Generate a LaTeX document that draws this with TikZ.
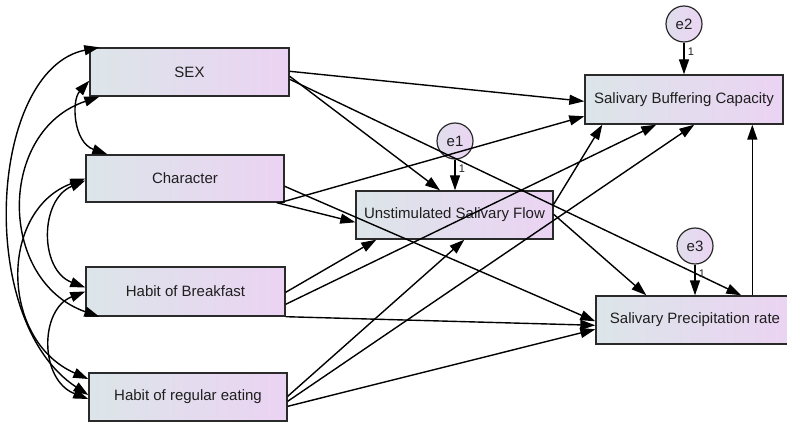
\documentclass[tikz,border=0pt]{standalone}
\usepackage{fontspec}
\setmainfont{Liberation Sans}
\usetikzlibrary{arrows.meta,calc}
\definecolor{boxL}{HTML}{DCE5E9}
\definecolor{boxR}{HTML}{EBD3F3}
\definecolor{errL}{HTML}{E0DEEC}
\definecolor{errR}{HTML}{EBD5F3}
\definecolor{edge}{HTML}{2A2A2A}
\tikzset{
  var/.style={draw=edge, line width=1.4pt, minimum width=198pt, minimum height=48pt,
    inner sep=0pt, left color=boxL, right color=boxR,
    font=\fontsize{15}{18}\selectfont, text=black!88},
  err/.style={circle, draw=edge, line width=1.2pt, minimum size=36pt, inner sep=0pt,
    left color=errL, right color=errR, font=\fontsize{15}{18}\selectfont, text=black!88},
  lab/.style={font=\fontsize{11}{12}\selectfont, inner sep=0pt, text=black!88},
  reg/.style={line width=1.4pt, -{Triangle[length=15pt,width=10pt]}},
  cov/.style={line width=1.4pt, {Triangle[length=15pt,width=10pt]}-{Triangle[length=15pt,width=10pt]}},
}
\begin{document}
\begin{tikzpicture}[x=1pt,y=-1pt]
\useasboundingbox (0,0) rectangle (787,422);
\clip (0,0) rectangle (787,422);
% observed variables
\node[var, minimum width=199pt] (sex) at (189.5,72) {SEX};
\node[var, minimum height=47pt] (char) at (185,178.5) {Character};
\node[var, minimum width=199pt, minimum height=49pt] (hb) at (185.5,291.5) {Habit of Breakfast};
\node[var] (hre) at (188,397) {Habit of regular eating};
\node[var, minimum width=197pt] (usf) at (454.5,215) {Unstimulated Salivary Flow};
\node[var, minimum height=49pt] (sbc) at (684,99.5) {Salivary Buffering Capacity};
\node[var] (spr) at (695,320) {Salivary Precipitation rate};
% error terms
\node[err] (e1) at (455,141) {e1};
\node[err] (e2) at (684,24) {e2};
\node[err] (e3) at (695,246) {e3};
% regression paths
\draw[reg] ($(sex.north east)+(0,24)$) -- ($(sbc.north west)+(0,27)$);
\draw[reg] ($(sex.north east)+(0,29)$) -- ($(usf.north)+(-14.5,0)$);
\draw[reg] ($(sex.north east)+(0,32)$) -- ($(spr.north west)+(146,0)$);
\draw[reg] ($(char.south east)+(-5,0)$) -- ($(sbc.north west)+(0,42)$);
\draw[reg] ($(char.south east)+(-8,0)$) -- ($(usf.north west)+(0,32)$);
\draw[reg] ($(char.north east)+(0,32)$) -- ($(spr.north west)+(0,26)$);
\draw[reg] ($(hb.north east)+(0,26)$) -- ($(usf.south west)+(21,0)$);
\draw[reg] ($(hb.north east)+(0,38)$) -- ($(sbc.south west)+(72,0)$);
\draw[reg] (hb.south east) -- ($(spr.north west)+(0,30)$);
\draw[reg] ($(hre.north east)+(0,24)$) -- ($(usf.south west)+(109,0)$);
\draw[reg] ($(hre.north east)+(0,29)$) -- ($(sbc.south west)+(110,0)$);
\draw[reg] ($(hre.north east)+(0,34)$) -- ($(spr.north west)+(0,34)$);
\draw[reg] ($(usf.north east)+(0,14)$) -- ($(sbc.south west)+(18,0)$);
\draw[reg] ($(usf.north east)+(0,24)$) -- ($(spr.north west)+(51,0)$);
\draw[reg] ($(spr.north west)+(157,0)$) -- ($(sbc.south west)+(168,0)$);
% error paths
\draw[reg] (e1.south) -- (usf.north -| e1.south);
\draw[reg] (e2.south) -- (sbc.north);
\draw[reg] (e3.south) -- (spr.north);
\node[lab] (l1) at ($(e1.south)+(7,9)$) {1};
\node[lab] (l2) at ($(e2.south)+(7,9)$) {1};
\node[lab] (l3) at ($(e3.south)+(7,9)$) {1};
% covariances
\draw[cov] ($(sex.south west)+(0,-16)$) .. controls ($(sex.south west)+(-18,4)$) and ($(char.north west)+(-12,-12)$) .. ($(char.north west)+(22,0)$);
\draw[cov] ($(sex.south west)+(10,0)$) .. controls ($(sex.south west)+(-92,34)$) and ($(hb.south west)+(-88,-36)$) .. ($(hb.south west)+(14,0)$);
\draw[cov] ($(sex.north west)+(10,0)$) .. controls ($(sex.north west)+(-100,22)$) and ($(hre.west)+(-114,-77)$) .. ($(hre.west)+(0,-2)$);
\draw[cov] ($(char.west)+(0,2)$) .. controls ($(char.west)+(-46,21.5)$) and ($(hb.west)+(-46,-21.5)$) .. ($(hb.west)+(0,-4)$);
\draw[cov] (char.west) .. controls ($(char.west)+(-86,31.5)$) and ($(hre.west)+(-89,-57)$) .. ($(hre.west)+(0,-18)$);
\draw[cov] (hb.west) .. controls ($(hb.west)+(-46,18)$) and ($(hre.west)+(-49,-17)$) .. ($(hre.west)+(0,2)$);
\end{tikzpicture}
\end{document}
